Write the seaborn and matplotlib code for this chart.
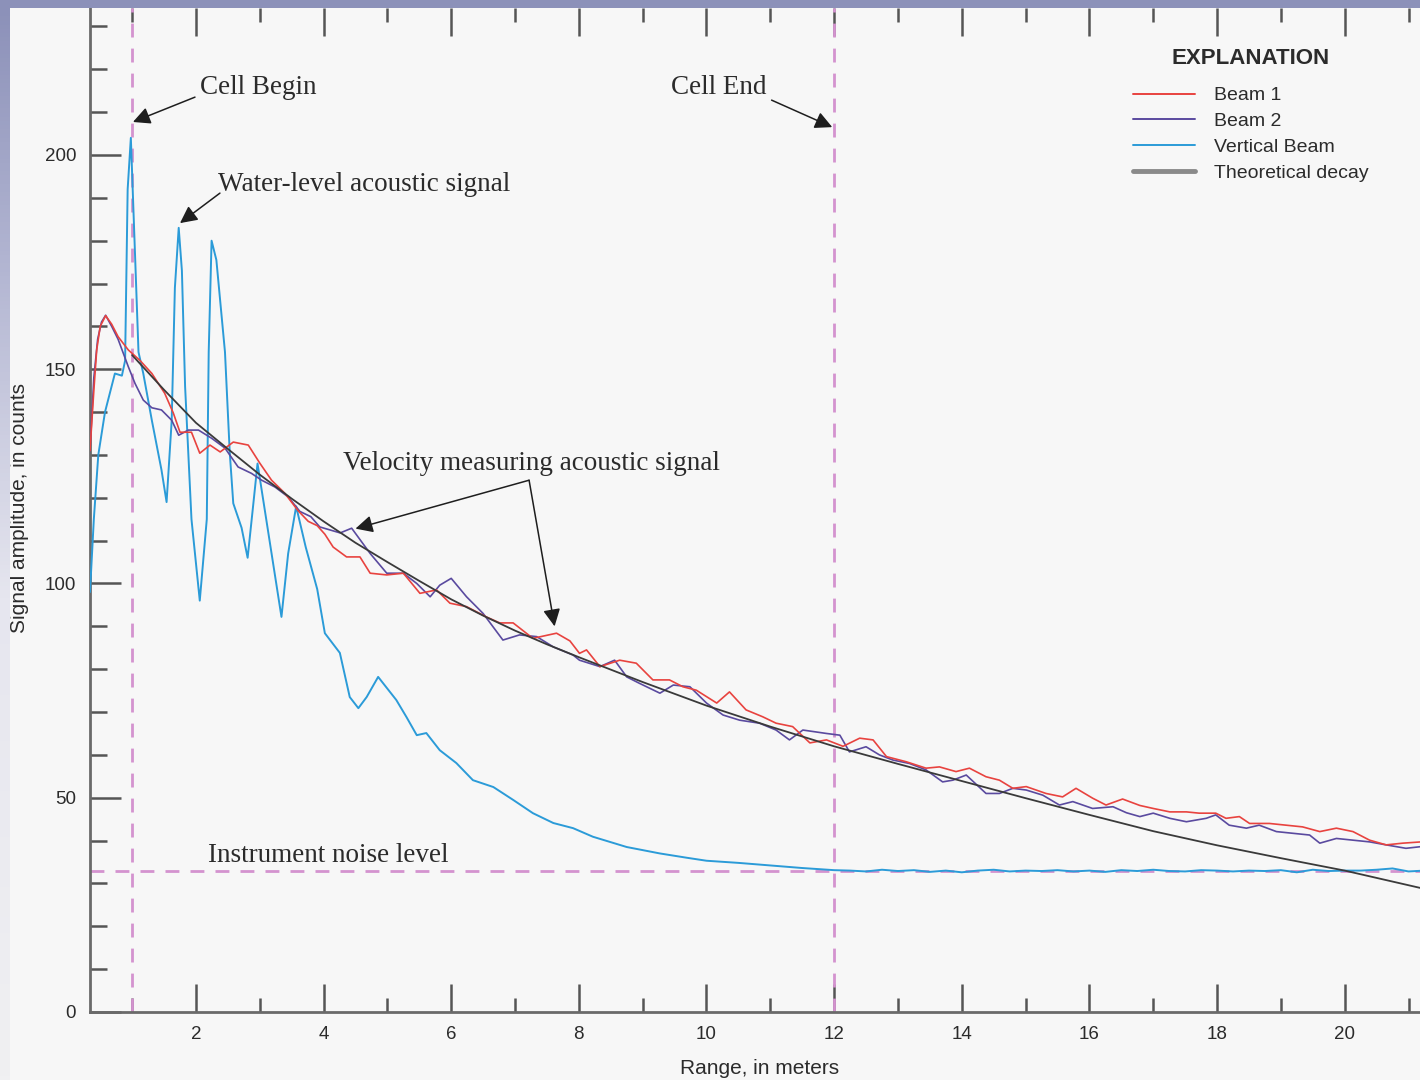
import numpy as np
import pandas as pd
import matplotlib
matplotlib.use("Agg")
import matplotlib.pyplot as plt
from matplotlib.lines import Line2D
from matplotlib.colors import LinearSegmentedColormap
import seaborn as sns

# ---------------- data ----------------
vert_x = [0.34, 0.40, 0.47, 0.575, 0.73, 0.84, 0.89, 0.93, 0.98, 1.045, 1.10, 1.175, 1.31, 1.46, 1.54,
          1.62, 1.67, 1.73, 1.78, 1.83, 1.93, 2.06, 2.17, 2.20, 2.245, 2.32, 2.455, 2.53, 2.585, 2.715,
          2.81, 2.90, 2.965, 3.03, 3.185, 3.34, 3.445, 3.57, 3.72, 3.90, 4.02, 4.255, 4.41, 4.545, 4.675,
          4.855, 5.14, 5.30, 5.46, 5.61, 5.82, 6.08, 6.34, 6.66, 6.97, 7.28, 7.60, 7.91, 8.22, 8.75,
          9.27, 9.69, 10.0, 10.5, 11.0, 11.5, 12.0,
          12.25, 12.5, 12.75, 13.0, 13.25, 13.5, 13.75, 14.0, 14.25, 14.5, 14.75, 15.0, 15.25, 15.5,
          15.75, 16.0, 16.25, 16.5, 16.75, 17.0, 17.25, 17.5, 17.75, 18.0, 18.25, 18.5, 18.75, 19.0,
          19.25, 19.5, 19.75, 20.0, 20.25, 20.5, 20.75, 21.0, 21.25]
vert_y = [98, 115, 130, 140, 149, 148.5, 152, 192, 204, 177, 154, 149, 138, 126.5, 119,
          138, 169, 183, 173, 146, 115, 96, 115, 154, 180, 175.5, 154, 130.5, 118.7, 113,
          106, 118.7, 128, 121.8, 107, 92.2, 107, 118, 108.5, 98.7, 88.4, 83.8, 73.5, 70.9, 73.5,
          78.2, 72.8, 68.8, 64.6, 65.1, 61.1, 58.1, 54.1, 52.5, 49.5, 46.4, 44.1, 42.9, 40.9, 38.5,
          37.0, 36.0, 35.3, 34.8, 34.2, 33.6, 33.1,
          33.0, 32.8, 33.2, 32.9, 33.1, 32.7, 33.0, 32.6, 33.0, 33.2, 32.8, 33.0, 32.9, 33.1,
          32.8, 33.0, 32.7, 33.1, 32.9, 33.2, 32.9, 32.8, 33.1, 33.0, 32.8, 33.0, 32.9, 33.1,
          32.6, 33.2, 32.9, 33.0, 33.0, 33.2, 33.5, 32.8, 33.0]

beam1_x = [0.34, 0.40, 0.445, 0.50, 0.585, 0.68, 0.78, 0.94, 1.12, 1.31, 1.51, 1.645, 1.75, 1.93, 2.06,
           2.22, 2.38, 2.585, 2.82, 3.00, 3.185, 3.39, 3.60, 3.76, 3.90, 4.02, 4.15, 4.36, 4.57, 4.73,
           4.99, 5.25, 5.51, 5.77, 5.98, 6.24, 6.55, 6.76, 6.97, 7.28, 7.65, 7.86, 8.01, 8.12, 8.33,
           8.64, 8.90, 9.16, 9.42, 9.63, 9.84, 10.0, 10.16, 10.36, 10.62, 10.88, 11.09, 11.35, 11.62,
           11.88, 12.14, 12.40, 12.61, 12.82, 13.13, 13.44, 13.65, 13.91, 14.12, 14.38, 14.59, 14.80,
           15.01, 15.32, 15.58, 15.79, 16.05, 16.26, 16.52, 16.79, 17.0, 17.26, 17.52, 17.72, 17.98,
           18.14, 18.35, 18.51, 18.82, 19.08, 19.34, 19.61, 19.87, 20.13, 20.39, 20.65, 20.91, 21.2]
beam1_y = [131, 145, 154.5, 160, 162.5, 160.5, 157.6, 154.5, 152.1, 149, 144.4, 139.8, 135.3, 135.3, 130.4,
           132.3, 130.7, 133, 132.3, 128.1, 124.1, 121.1, 117, 114.5, 113.5, 111.5, 108.5, 106.2, 106.2, 102.4,
           102, 102.4, 97.7, 98.5, 95.4, 94.6, 92.2, 90.8, 90.8, 87.2, 88.4, 86.6, 83.7, 84.5, 80.6,
           82.1, 81.4, 77.5, 77.5, 75.9, 75.1, 73.6, 72.1, 74.7, 70.5, 68.9, 67.4, 66.6, 62.8,
           63.5, 62.0, 63.9, 63.5, 59.6, 58.4, 56.9, 57.2, 56.1, 56.9, 54.9, 54.1, 52.2,
           52.6, 51.0, 50.2, 52.2, 49.9, 48.3, 49.7, 48.2, 47.5, 46.7, 46.7, 46.4, 46.4,
           45.2, 45.6, 44.0, 44.0, 43.6, 43.2, 42.1, 42.9, 42.1, 40.1, 39.0, 39.4, 39.7]

beam2_x = [0.34, 0.40, 0.46, 0.52, 0.585, 0.68, 0.78, 0.94, 1.045, 1.175, 1.31, 1.46, 1.62, 1.73, 1.88,
           2.04, 2.245, 2.455, 2.66, 2.87, 3.03, 3.24, 3.445, 3.63, 3.80, 3.94, 4.26, 4.44, 4.73, 4.99,
           5.25, 5.46, 5.67, 5.82, 6.0, 6.24, 6.5, 6.81, 7.07, 7.34, 7.6, 7.91, 8.01, 8.33, 8.56,
           8.75, 8.95, 9.27, 9.48, 9.74, 10.0, 10.26, 10.52, 10.83, 11.09, 11.30, 11.51, 11.88, 12.09,
           12.24, 12.50, 12.71, 12.92, 13.18, 13.44, 13.70, 13.86, 14.07, 14.38, 14.59, 14.80, 15.01,
           15.27, 15.53, 15.74, 16.05, 16.37, 16.58, 16.79, 17.0, 17.26, 17.52, 17.83, 17.98, 18.19,
           18.46, 18.66, 18.93, 19.19, 19.45, 19.61, 19.87, 20.13, 20.39, 20.65, 20.96, 21.2]
beam2_y = [131, 148, 157, 161, 162.6, 160, 157, 150.6, 146.7, 142.8, 141, 140.5, 138.1, 134.6, 135.8,
           135.8, 133.9, 131.6, 127.2, 125.7, 124.1, 122.5, 120.2, 116.8, 115.6, 113.2, 111.8, 112.9, 107, 102.4,
           102.4, 100, 96.9, 99.6, 101.2, 96.9, 93, 86.8, 88, 87.6, 85.2, 83.3, 82.1, 80.6, 82.1,
           78.2, 76.7, 74.4, 76.3, 75.9, 72.1, 69.3, 68.1, 67.4, 65.8, 63.5, 65.8, 65.0, 64.6,
           60.7, 61.9, 60.0, 58.8, 58.0, 56.5, 53.7, 54.1, 55.3, 51.0, 51.0, 52.2, 51.8,
           50.6, 48.3, 49.1, 47.5, 47.9, 46.5, 45.6, 46.4, 45.2, 44.4, 45.2, 46.0, 43.6,
           42.9, 43.6, 42.1, 41.7, 41.3, 39.4, 40.5, 40.1, 39.7, 39.0, 38.2, 38.6]

theory_x = [1.0, 1.5, 2.0, 2.5, 3.0, 3.5, 4.0, 4.5, 5.0, 5.5, 6.0, 6.5, 7.0, 7.5, 8.0, 9.0, 10.0,
            11.0, 12.0, 13.0, 14.0, 15.0, 16.0, 17.0, 18.0, 19.0, 20.0, 21.2]
theory_y = [153.3, 145.2, 137.5, 131.4, 125.4, 119.8, 114.5, 109.5, 105.0, 100.6, 96.3, 92.5, 89.0, 85.8,
            82.8, 77.0, 71.5, 66.6, 62.0, 57.9, 53.9, 49.9, 46.0, 42.2, 38.9, 35.9, 33.0, 28.9]

cell_begin = 1.0
cell_end = 12.0
noise_level = 33.0

series_labels = ["Beam 1", "Beam 2", "Vertical Beam", "Theoretical decay"]

# ---------------- styling ----------------
BG = "#f7f7f7"
C_B1 = "#e8433f"
C_B2 = "#5a4a9f"
C_VB = "#2b9bd8"
C_TH = "#3a3a3a"
C_PINK = "#d493cf"
TXT = "#2b2b2b"
SANS = ["Liberation Sans", "DejaVu Sans"]

sns.set_theme(style="ticks")
plt.rcParams["font.family"] = SANS

fig = plt.figure(figsize=(14.2, 10.8), dpi=100, facecolor=BG)
W, H = 1420, 1080
ax = fig.add_axes([90 / W, (H - 1012) / H, (W - 90) / W, (1012 - 8) / H])
ax.set_facecolor(BG)

# frame decoration (top strip + left gradient strip)
top = fig.add_axes([0, 1 - 8 / H, 1, 8 / H])
top.set_facecolor("#8c91b9")
top.set_xticks([]); top.set_yticks([])
for s in top.spines.values():
    s.set_visible(False)
left = fig.add_axes([0, 0, 10 / W, 1 - 8 / H])
cmap = LinearSegmentedColormap.from_list(
    "g", [(0, "#8c91b9"), (0.25, "#b4b7d3"), (0.55, "#e6e6ef"), (1, "#f0f0f2")])
left.imshow(np.linspace(0, 1, 256).reshape(-1, 1), aspect="auto", cmap=cmap)
left.axis("off")

df_b1 = pd.DataFrame({"x": beam1_x, "y": beam1_y})
df_b2 = pd.DataFrame({"x": beam2_x, "y": beam2_y})
df_vb = pd.DataFrame({"x": vert_x, "y": vert_y})
df_th = pd.DataFrame({"x": theory_x, "y": theory_y})

# reference dashed lines
ax.axvline(cell_begin, color=C_PINK, lw=2, dashes=(5, 4), zorder=1)
ax.axvline(cell_end, color=C_PINK, lw=2, dashes=(5, 4), zorder=1)
ax.axhline(noise_level, color=C_PINK, lw=2, dashes=(5, 4), zorder=1)

sns.lineplot(data=df_vb, x="x", y="y", ax=ax, color=C_VB, lw=1.4, sort=False, estimator=None, zorder=3)
sns.lineplot(data=df_b2, x="x", y="y", ax=ax, color=C_B2, lw=1.2, sort=False, estimator=None, zorder=4)
sns.lineplot(data=df_b1, x="x", y="y", ax=ax, color=C_B1, lw=1.2, sort=False, estimator=None, zorder=5)
sns.lineplot(data=df_th, x="x", y="y", ax=ax, color=C_TH, lw=1.3, sort=False, estimator=None, zorder=6)

ax.set_xlim(0.34, 21.18)
ax.set_ylim(0, 234.3)
ax.set_xticks(np.arange(2, 21, 2))
ax.set_xticks(np.arange(1, 22, 2), minor=True)
ax.set_yticks(np.arange(0, 201, 50))
ax.set_yticks(np.arange(10, 231, 10), minor=True)

for side in ["right", "top"]:
    ax.spines[side].set_visible(False)
for side in ["left", "bottom"]:
    ax.spines[side].set_color("#6a6a6a")
    ax.spines[side].set_linewidth(2)

ax.tick_params(axis="x", which="major", direction="in", length=20, width=1.8, color="#555555",
               top=True, labelsize=13.5, labelcolor=TXT, pad=10)
ax.tick_params(axis="x", which="minor", direction="in", length=10, width=1.8, color="#555555", top=True)
ax.tick_params(axis="y", which="major", direction="in", length=22, width=1.8, color="#555555",
               labelsize=13.5, labelcolor=TXT, pad=10)
ax.tick_params(axis="y", which="minor", direction="in", length=12, width=1.8, color="#555555")

ax.set_xlabel("Range, in meters", fontsize=15, color=TXT, labelpad=14)
ax.set_ylabel("Signal amplitude, in counts", fontsize=15, color=TXT, labelpad=22)
ax.xaxis.set_label_coords((760 - 90) / (W - 90), -(1068 - 1012) / (1012 - 8))
ax.yaxis.set_label_coords(-(90 - 20) / (W - 90), (1012 - 508) / (1012 - 8))
ax.xaxis.label.set_va("center")
ax.yaxis.label.set_va("center")

# annotations
serif = dict(family=["Liberation Serif", "DejaVu Serif"], size=19.5, color=TXT)
ap = dict(arrowstyle="-|>", color="#1e1e1e", lw=1.1, mutation_scale=26, shrinkA=0, shrinkB=0)
ax.text(2.063, 215.8, "Cell Begin", ha="left", va="center", **serif)
ax.annotate("", xy=(1.013, 207.7), xytext=(1.985, 213.5), arrowprops=ap)
ax.text(9.44, 215.8, "Cell End", ha="left", va="center", **serif)
ax.annotate("", xy=(11.97, 206.5), xytext=(11.02, 212.8), arrowprops=ap)
ax.text(2.345, 193.2, "Water-level acoustic signal", ha="left", va="center", **serif)
ax.annotate("", xy=(1.75, 184.1), xytext=(2.376, 191.1), arrowprops=ap)
ax.text(4.302, 128.1, "Velocity measuring acoustic signal", ha="left", va="center", **serif)
ax.annotate("", xy=(4.50, 112.8), xytext=(7.22, 124.1), arrowprops=ap)
ax.annotate("", xy=(7.62, 90.0), xytext=(7.22, 124.1), arrowprops=ap)
ax.text(2.19, 36.6, "Instrument noise level", ha="left", va="center", **serif)

# legend
fig.text(1251 / W, 1 - 58 / H, "EXPLANATION", ha="center", va="center",
         fontsize=16, fontweight="bold", color=TXT, family=SANS)
handles = [Line2D([], [], color=C_B1, lw=1.4),
           Line2D([], [], color=C_B2, lw=1.4),
           Line2D([], [], color=C_VB, lw=1.4),
           Line2D([], [], color="#8a8a8a", lw=3.5)]
leg = ax.legend(handles, series_labels, loc="upper left",
                bbox_to_anchor=(1123 / W, 1 - 77 / H), bbox_transform=fig.transFigure,
                frameon=False, borderpad=0, handlelength=3.2, handletextpad=1.0, labelspacing=0.42,
                prop={"family": SANS, "size": 14})
for t in leg.get_texts():
    t.set_color(TXT)

fig.savefig("out.png", dpi=100, facecolor=BG)
